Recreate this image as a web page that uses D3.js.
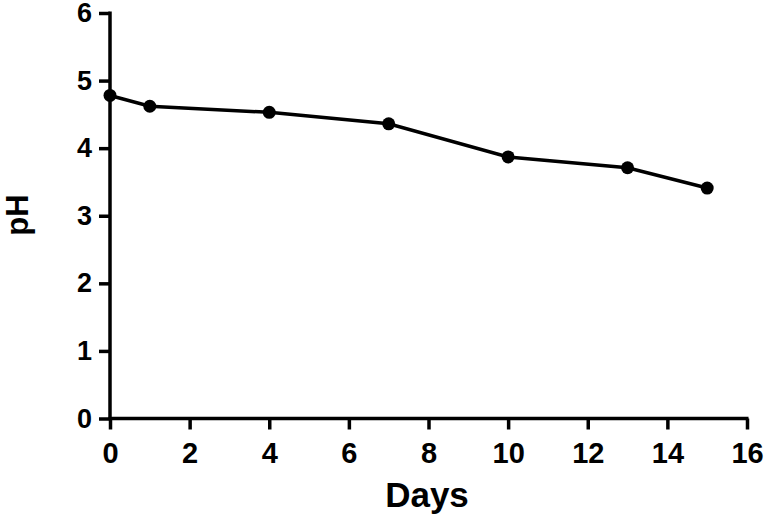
<!DOCTYPE html>
<html><head><meta charset="utf-8">
<script src="https://cdn.jsdelivr.net/npm/d3@7"></script>
<style>
body{margin:0;background:#fff;}
svg{display:block;font-family:"Liberation Sans",Arial,sans-serif;font-weight:bold;}
</style></head>
<body>
<script>
const days = [0, 1, 4, 7, 10, 13, 15];
const ph = [4.78, 4.62, 4.53, 4.36, 3.87, 3.71, 3.41];
const xTicks = [0, 2, 4, 6, 8, 10, 12, 14, 16];
const yTicks = [0, 1, 2, 3, 4, 5, 6];

const W = 767, H = 522;
const svg = d3.select("body").append("svg").attr("width", W).attr("height", H);
const x = d3.scaleLinear().domain([0, 16]).range([110, 747]);
const y = d3.scaleLinear().domain([0, 6]).range([418.5, 13]);

const xAxis = svg.append("g").attr("transform", `translate(0,${y(0)})`)
  .call(d3.axisBottom(x).tickValues(xTicks).tickFormat(d3.format("d")).tickSize(11).tickPadding(13).tickSizeOuter(0));
const yAxis = svg.append("g").attr("transform", `translate(${x(0)},0)`)
  .call(d3.axisLeft(y).tickValues(yTicks).tickFormat(d3.format("d")).tickSize(11).tickPadding(7).tickSizeOuter(0));
[xAxis, yAxis].forEach(g => {
  g.select(".domain").attr("stroke", "#000").attr("stroke-width", 3.5);
  g.selectAll(".tick line").attr("stroke", "#000").attr("stroke-width", 3.5);
  g.selectAll(".tick text").attr("fill", "#000")
   .style("font-family", "'Liberation Sans',Arial,sans-serif").style("font-weight", "bold");
});
xAxis.selectAll(".tick text").style("font-size", "29px");
yAxis.selectAll(".tick text").style("font-size", "27px");
xAxis.select(".domain").attr("d", `M${x(0)-1.5},0H${x(16)+1.5}`);
yAxis.select(".domain").attr("d", `M0,${y(6)-1.5}V${y(0)+1.5}`);

const pts = days.map((d, i) => [d, ph[i]]);
svg.append("path").datum(pts)
  .attr("fill", "none").attr("stroke", "#000").attr("stroke-width", 3.5)
  .attr("d", d3.line().x(d => x(d[0])).y(d => y(d[1])));
svg.selectAll("circle.pt").data(pts).enter().append("circle")
  .attr("cx", d => x(d[0])).attr("cy", d => y(d[1])).attr("r", 6.5).attr("fill", "#000");

svg.append("text").attr("x", 427).attr("y", 507).attr("text-anchor", "middle")
  .style("font-size", "35px").text("Days");
svg.append("text").attr("transform", `translate(28,215) rotate(-90)`)
  .attr("text-anchor", "middle").style("font-size", "31px").text("pH");
</script>
</body></html>
